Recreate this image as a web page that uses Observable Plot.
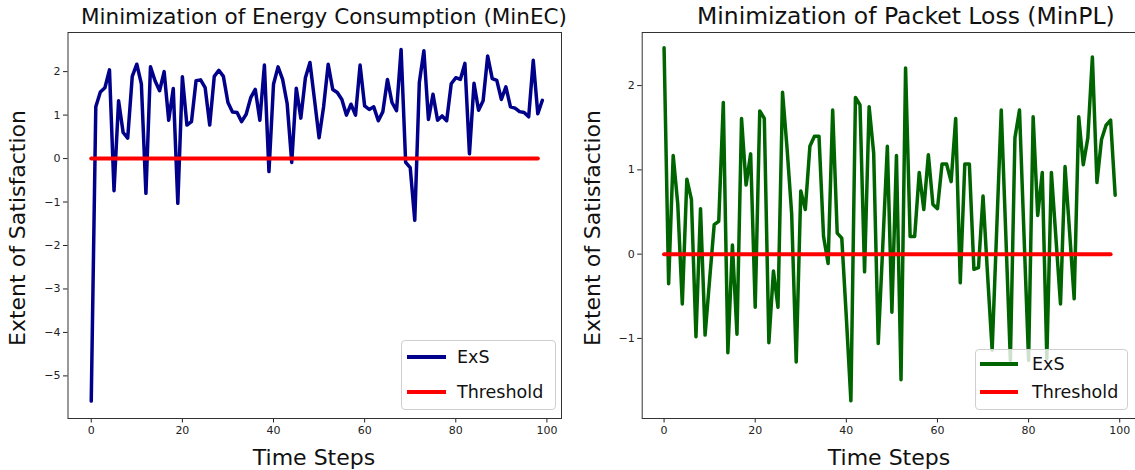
<!DOCTYPE html>
<html>
<head>
<meta charset="utf-8">
<script src="https://cdn.jsdelivr.net/npm/d3@7"></script>
<script src="https://cdn.jsdelivr.net/npm/@observablehq/plot@0.6"></script>
<style>
  body { margin: 0; background: #fff; font-family: "DejaVu Sans", sans-serif; }
  #fig { position: relative; width: 1135px; height: 470px; overflow: hidden; background: #fff; }
  .panel { position: absolute; top: 0; }
  .t { position: absolute; white-space: nowrap; color: #111; line-height: 1; }
  .xl { font-size: 22px; transform: translateX(-50%); }
  .yl { font-size: 22px; transform: translate(-50%, -50%) rotate(-90deg); }
  .legend { position: absolute; background: rgba(255,255,255,0.8); border: 1px solid #cfcfcf; border-radius: 4px; box-sizing: border-box; }
  .sw { position: absolute; height: 4px; }
  .lt { position: absolute; font-size: 17.5px; line-height: 1; color: #111; white-space: nowrap; }
</style>
</head>
<body>
<div id="fig"></div>
<script>
// ---- data ----
const timeTicks = [0, 20, 40, 60, 80, 100];
const ecTicks = [-5, -4, -3, -2, -1, 0, 1, 2];
const plTicks = [-1, 0, 1, 2];

// Minimization of Energy Consumption: ExS per time step (0..99)
const minEC = [
  -5.58, 1.19, 1.53, 1.63, 2.04, -0.74, 1.33, 0.60, 0.47, 1.89,
  2.17, 1.72, -0.80, 2.11, 1.79, 1.56, 2.00, 0.88, 1.61, -1.03,
  1.88, 0.77, 0.85, 1.79, 1.81, 1.63, 0.77, 1.89, 2.03, 1.89,
  1.29, 1.07, 1.06, 0.85, 1.02, 1.40, 1.59, 0.88, 2.15, -0.30,
  1.71, 2.11, 1.82, 1.26, -0.09, 1.62, 0.93, 1.86, 2.21, 1.35,
  0.48, 1.20, 2.17, 1.59, 1.52, 1.36, 1.00, 1.25, 1.00, 2.15,
  1.21, 1.13, 1.19, 0.87, 1.08, 1.82, 1.29, 1.10, 2.51, -0.09,
  -0.21, -1.42, 1.75, 2.48, 0.90, 1.48, 0.88, 0.98, 0.87, 1.72,
  1.86, 1.82, 2.19, 0.11, 1.73, 1.11, 1.33, 2.36, 1.84, 1.80,
  1.36, 1.65, 1.19, 1.16, 1.08, 1.06, 0.96, 2.26, 1.03, 1.34
];

// Minimization of Packet Loss: ExS per time step (0..99)
const minPL = [
  2.45, -0.35, 1.17, 0.60, -0.59, 0.89, 0.65, -0.98, 0.54, -0.96,
  -0.30, 0.35, 0.39, 1.80, -1.17, 0.11, -0.95, 1.61, 0.82, 1.19,
  -0.63, 1.70, 1.61, -1.05, -0.20, -0.63, 1.92, 1.25, 0.48, -1.28,
  0.75, 0.53, 1.28, 1.40, 1.40, 0.21, -0.11, 1.71, 0.25, 0.19,
  -0.75, -1.74, 1.86, 1.77, -0.21, 1.75, 1.20, -1.06, 0.10, 1.28,
  -0.69, 1.17, -1.49, 2.21, 0.21, 0.21, 0.97, 0.53, 1.18, 0.59,
  0.54, 1.07, 1.07, 0.86, 1.61, -0.34, 1.07, 1.07, -0.18, -0.16,
  0.69, -0.25, -1.14, 0.29, 1.71, 0.23, -1.26, 1.38, 1.71, 0.22,
  -1.26, 1.63, 0.46, 0.97, -1.24, 0.97, 0.19, -0.59, 1.04, 0.26,
  -0.53, 1.63, 1.06, 1.38, 2.34, 0.85, 1.36, 1.53, 1.59, 0.70
];

// Threshold line
const thresholdSteps = [0, 98];
const thresholdValues = [0, 0];

const exsColorEC = "#00008b";
const exsColorPL = "#006400";
const thresholdColor = "#ff0000";

// ---- build ----
const toRows = arr => arr.map((v, i) => ({step: i, value: v}));
const thrRows = thresholdSteps.map((s, i) => ({step: s, value: thresholdValues[i]}));
const intFmt = d3.format("d");

function panel(opts) {
  return Plot.plot({
    width: opts.width, height: 470,
    marginLeft: opts.ml, marginRight: opts.mr, marginTop: 32, marginBottom: 52,
    x: {domain: opts.xd},
    y: {domain: opts.yd},
    style: {fontFamily: "DejaVu Sans, sans-serif", fontSize: "11px", color: "#222", background: "transparent", overflow: "visible"},
    marks: [
      Plot.axisX({ticks: timeTicks, tickSize: 4.5, tickPadding: 3, tickFormat: intFmt, label: null}),
      Plot.axisY({ticks: opts.yt, tickSize: 4.5, tickPadding: 3, tickFormat: intFmt, label: null}),
      Plot.line(toRows(opts.data), {x: "step", y: "value", stroke: opts.color, strokeWidth: 3.5}),
      Plot.line(thrRows, {x: "step", y: "value", stroke: thresholdColor, strokeWidth: 4}),
      Plot.frame({stroke: "#333"})
    ]
  });
}

const fig = document.getElementById("fig");

const left = document.createElement("div");
left.className = "panel"; left.style.left = "0px"; left.style.width = "575px";
left.appendChild(panel({width: 575, ml: 67.5, mr: 14, xd: [-5.1, 103.2], yd: [-5.98, 2.90], yt: ecTicks, data: minEC, color: exsColorEC}));
fig.appendChild(left);

const right = document.createElement("div");
right.className = "panel"; right.style.left = "575px"; right.style.width = "570px";
right.appendChild(panel({width: 570, ml: 66.7, mr: 8, xd: [-4.8, 103.9], yd: [-1.95, 2.63], yt: plTicks, data: minPL, color: exsColorPL}));
fig.appendChild(right);

function addText(cls, txt, x, y, size) {
  const d = document.createElement("div");
  d.className = "t " + cls;
  d.textContent = txt;
  d.style.left = x + "px"; d.style.top = y + "px";
  if (size) d.style.fontSize = size + "px";
  fig.appendChild(d);
}
addText("title", "Minimization of Energy Consumption (MinEC)", 81, 24.5 - 0.846 * 21.5, 21.5);
addText("title", "Minimization of Packet Loss (MinPL)", 697, 24.5 - 0.846 * 23.5, 23.5);
addText("xl", "Time Steps", 314, 446.5);
addText("xl", "Time Steps", 889, 446.5);
addText("yl", "Extent of Satisfaction", 18, 228);
addText("yl", "Extent of Satisfaction", 593, 228);

function addLegend(x, y, w, h, color, y1, y2, swX, swW, txX) {
  const box = document.createElement("div");
  box.className = "legend";
  Object.assign(box.style, {left: x + "px", top: y + "px", width: w + "px", height: h + "px"});
  fig.appendChild(box);
  const items = [["ExS", color, y1], ["Threshold", thresholdColor, y2]];
  for (const [label, c, cy] of items) {
    const s = document.createElement("div");
    s.className = "sw";
    Object.assign(s.style, {left: swX + "px", top: (cy - 2) + "px", width: swW + "px", background: c});
    fig.appendChild(s);
    const t = document.createElement("div");
    t.className = "lt";
    t.textContent = label;
    Object.assign(t.style, {left: txX + "px", top: (cy - 0.48 * 17.5) + "px"});
    fig.appendChild(t);
  }
}
addLegend(401, 340, 155, 70, exsColorEC, 357, 392, 407, 39, 457);
addLegend(975, 349, 153, 61, exsColorPL, 364, 392, 980, 38, 1032);
</script>
</body>
</html>
